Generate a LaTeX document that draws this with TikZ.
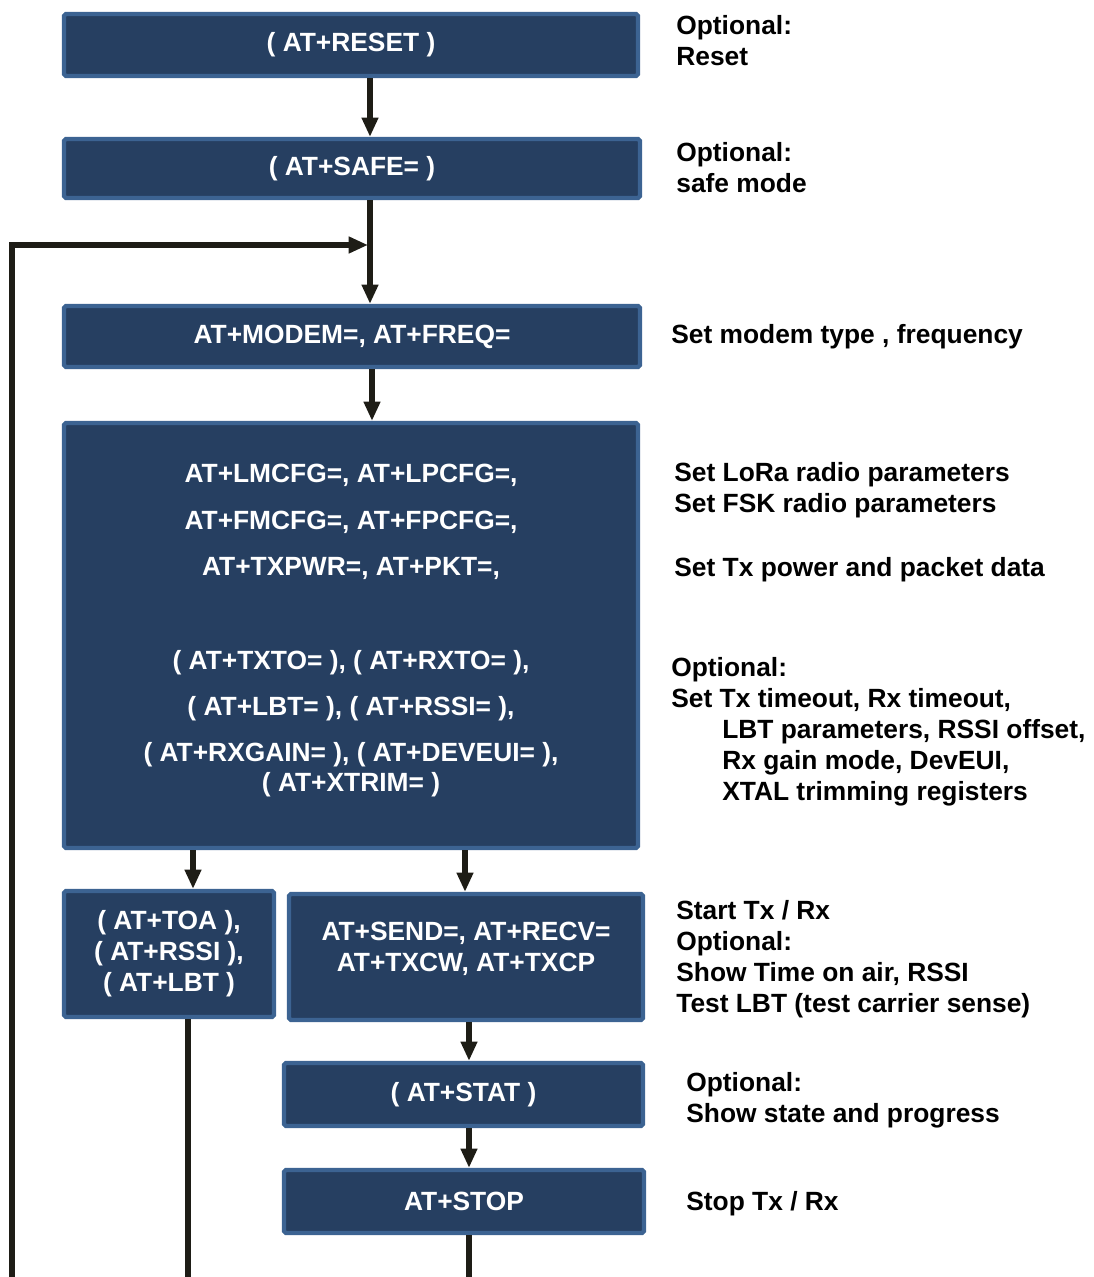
\documentclass[tikz,border=0pt]{standalone}
\usepackage{fontspec}
\setmainfont{Liberation Sans}
\usetikzlibrary{arrows.meta}
\definecolor{boxblue}{RGB}{38,63,97}
\definecolor{boxrim}{RGB}{60,99,146}
\definecolor{wirecol}{RGB}{30,29,22}
\tikzset{
  cmd/.style={draw=boxrim, fill=boxblue, line width=2.4pt, rounded corners=1pt,
    text=white, font=\bfseries\fontsize{15}{17.6}\selectfont, align=center, inner sep=0pt},
  note/.style={anchor=west, align=left, inner sep=0pt, font=\bfseries\fontsize{15}{17.6}\selectfont},
  wire/.style={draw=wirecol, line width=3pt},
}
\begin{document}
\begin{tikzpicture}[x=0.02cm, y=-0.02cm, >={Triangle[width=9pt,length=11pt]}]
\useasboundingbox (0,0) rectangle (1094,1277);

% command boxes
\node[cmd, minimum width=11.48cm, minimum height=1.24cm] (reset) at (351,45) {( AT+RESET )};
\node[cmd, minimum width=11.52cm, minimum height=1.18cm] (safe) at (352,168.5) {( AT+SAFE= )};
\node[cmd, minimum width=11.52cm, minimum height=1.22cm] (modem) at (352,336.5) {AT+MODEM=, AT+FREQ=};
\node[cmd, minimum width=11.48cm, minimum height=8.5cm] (params) at (351,635.5) {};
\node[text=white, align=center, inner sep=0pt, font=\bfseries\fontsize{15}{17.6}\selectfont] (paramtxt) at (351,631)
{AT+LMCFG=, AT+LPCFG=,\\[8.8pt]AT+FMCFG=, AT+FPCFG=,\\[8.8pt]AT+TXPWR=, AT+PKT=,\\[35.7pt]( AT+TXTO= ), ( AT+RXTO= ),\\[8.5pt]( AT+LBT= ), ( AT+RSSI= ),\\[8.5pt]( AT+RXGAIN= ), ( AT+DEVEUI= ),\\( AT+XTRIM= )};
\node[cmd, minimum width=4.2cm, minimum height=2.52cm] (query) at (169,954) {( AT+TOA ),\\( AT+RSSI ),\\( AT+LBT )};
\node[cmd, minimum width=7.08cm, minimum height=2.52cm] (txrx) at (466,957) {AT+SEND=, AT+RECV=\\AT+TXCW, AT+TXCP\\[-6pt]\mbox{}};
\node[cmd, minimum width=7.18cm, minimum height=1.26cm] (stat) at (463.5,1094.5) {( AT+STAT )};
\node[cmd, minimum width=7.2cm, minimum height=1.26cm] (stop) at (464,1201.5) {AT+STOP};

% notes on the right
\node[note] (n1) at (676,41) {Optional:\\Reset};
\node[note] (n2) at (676,168) {Optional:\\safe mode};
\node[note] (n3) at (671,337) {Set modem type , frequency};
\node[note] (n4) at (674,490) {Set LoRa radio parameters\\Set FSK radio parameters};
\node[note] (n5) at (674,570) {Set Tx power and packet data};
\node[note] (n6) at (671,732) {Optional:\\Set Tx timeout, Rx timeout,\\\hspace*{29pt}LBT parameters, RSSI offset,\\\hspace*{29pt}Rx gain mode, DevEUI,\\\hspace*{29pt}XTAL trimming registers};
\node[note] (n7) at (676,959) {Start Tx / Rx\\Optional:\\Show Time on air, RSSI\\Test LBT (test carrier sense)};
\node[note] (n8) at (686,1100) {Optional:\\Show state and progress};
\node[note] (n9) at (686,1204) {Stop Tx / Rx};

% arrows
\foreach \a/\b/\x in {reset/safe/370, safe/modem/370, modem/params/372, params/query/193, params/txrx/465, txrx/stat/469, stat/stop/469}
{
\draw[wire,->] (\x,0 |- \a.south)--(\x,0 |- \b.north);
}
\coordinate (loopbot) at (12,1290);
\coordinate (join) at (368,245);
\draw[wire,->] (loopbot) |- (join);
\draw[wire] (188,0 |- query.south)--(188,1290);
\draw[wire] (469,0 |- stop.south)--(469,1290);
\end{tikzpicture}
\end{document}
